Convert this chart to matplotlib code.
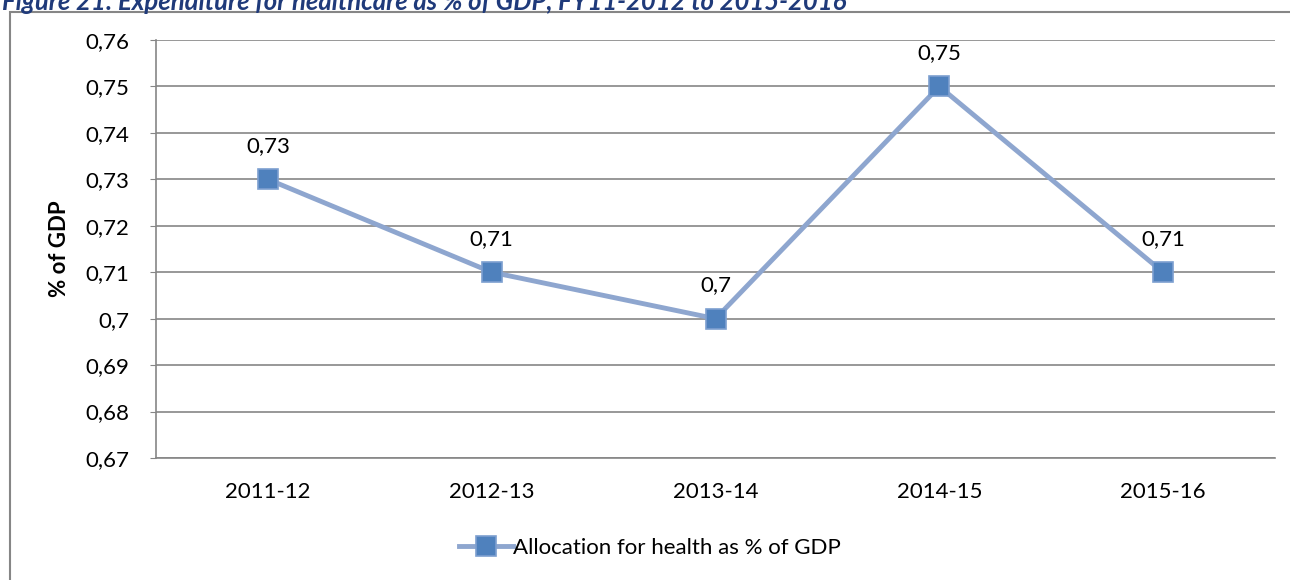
import matplotlib
matplotlib.use("Agg")
import matplotlib.pyplot as plt
from matplotlib.patches import Rectangle

categories = ["2011-12", "2012-13", "2013-14", "2014-15", "2015-16"]
values = [0.73, 0.71, 0.70, 0.75, 0.71]
value_labels = ["0,73", "0,71", "0,7", "0,75", "0,71"]
y_ticks = [0.67, 0.68, 0.69, 0.70, 0.71, 0.72, 0.73, 0.74, 0.75, 0.76]
y_tick_labels = ["0,67", "0,68", "0,69", "0,7", "0,71", "0,72", "0,73", "0,74", "0,75", "0,76"]
series_name = "Allocation for health as % of GDP"
title = "Figure 21: Expenditure for healthcare as % of GDP, FY11-2012 to 2015-2016"

plt.rcParams['font.family'] = ['Lato', 'DejaVu Sans']

W, H = 1290, 580
fig = plt.figure(figsize=(W / 100, H / 100), dpi=100)

# outer chart border (extends past right/bottom edges)
fig.patches.append(Rectangle((10 / W, -0.1), 1.2, 1 - 12 / H + 0.1, transform=fig.transFigure,
                             fill=False, edgecolor='#868686', linewidth=1.5))

fig.text(2 / W, 1 - 2 / H, title, fontsize=18.5, fontweight='bold', fontstyle='italic',
         color='#1F3A7A', ha='left', va='center')

left, right, top, bottom = 156, 1275, 40, 458
ax = fig.add_axes([left / W, 1 - bottom / H, (right - left) / W, (bottom - top) / H])

x = list(range(len(categories)))
ax.plot(x, values, color='#8EA6CF', linewidth=3.5, marker='s', markersize=14,
        markerfacecolor='#4F81BD', markeredgecolor='#7D9FD0', markeredgewidth=1.2,
        label=series_name, zorder=3, solid_joinstyle='round')

for xi, v, lab in zip(x, values, value_labels):
    ax.annotate(lab, (xi, v), xytext=(0, 17), textcoords='offset points',
                ha='center', va='bottom', fontsize=16, color='black')

ax.set_xlim(-0.5, len(categories) - 0.5)
ax.set_ylim(0.67, 0.76)
ax.set_yticks(y_ticks)
ax.set_yticklabels(y_tick_labels, fontsize=16)
ax.set_xticks(x)
ax.set_xticklabels(categories, fontsize=16)
ax.tick_params(axis='x', length=0, pad=17)
ax.tick_params(axis='y', length=4, color='#868686', pad=15)
ax.grid(axis='y', color='#868686', linewidth=1.2)
ax.set_axisbelow(True)
for s in ['top', 'right']:
    ax.spines[s].set_visible(False)
for s in ['left', 'bottom']:
    ax.spines[s].set_color('#868686')
    ax.spines[s].set_linewidth(1.2)

ax.set_ylabel("% of GDP", fontsize=16, fontweight='bold')
ax.yaxis.set_label_coords(-(156 - 70) / (right - left), 0.5)

leg = fig.legend(loc='center', bbox_to_anchor=(650 / W, 1 - 548 / H), frameon=False,
                 fontsize=16, handlelength=2.4, handletextpad=0.0)

fig.savefig("out.png", dpi=100)
